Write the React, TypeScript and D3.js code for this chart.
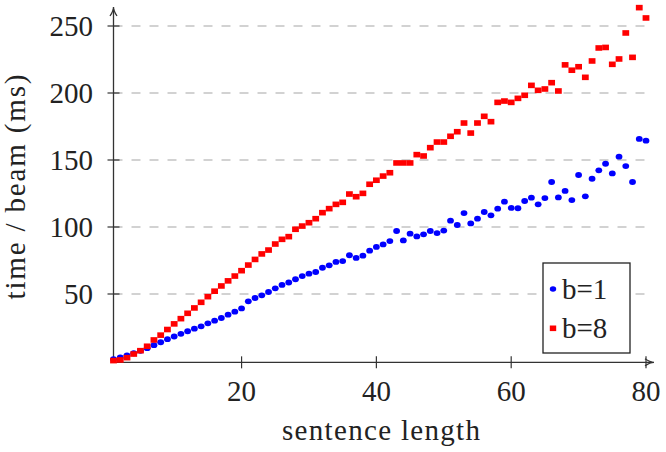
import React from 'react';
import * as d3 from 'd3';

// sentence length (x) for both series
const sentenceLengths = [
  1, 2, 3, 4, 5, 6, 7, 8, 9, 10, 11, 12, 13, 14, 15, 16, 17, 18, 19, 20,
  21, 22, 23, 24, 25, 26, 27, 28, 29, 30, 31, 32, 33, 34, 35, 36, 37, 38, 39, 40,
  41, 42, 43, 44, 45, 46, 47, 48, 49, 50, 51, 52, 53, 54, 55, 56, 57, 58, 59, 60,
  61, 62, 63, 64, 65, 66, 67, 68, 69, 70, 71, 72, 73, 74, 75, 76, 77, 78, 79, 80,
];

// time / beam (ms), beam size 1
const beam1 = [
  1.3, 2.7, 4.2, 5.8, 7.6, 9.6, 11.8, 14, 16.3, 18.3, 20.3, 22.2, 24.1, 25.9, 28.1, 30.1, 32.1, 34.6, 36.8, 39.2,
  44.5, 47, 49, 51.5, 54.2, 56.8, 58.6, 61, 63.4, 65.2, 66.4, 69.6, 71.4, 73.9, 74.6, 78.9, 76.9, 78.6, 82.3, 85.1,
  87, 89.5, 97, 90, 95, 93, 94.5, 97, 95.5, 97.3, 104.7, 101.5, 110.4, 102.7, 106.2, 111.2, 108.7, 113.7, 118.9, 114.2,
  114, 119.4, 121.9, 116.9, 121.6, 133.6, 122.1, 126.9, 120.1, 138.8, 122.9, 136, 142.3, 147.2, 140, 152.5, 145.5, 133.6, 165.7, 164.4,
];

// time / beam (ms), beam size 8
const beam8 = [
  0.3, 0.8, 2.5, 5.2, 7.7, 11, 15.7, 19.3, 23.5, 27.7, 31.6, 35.6, 39.6, 43.8, 48, 52.1, 56, 59.8, 63.4, 67.4,
  71.6, 75.8, 79.9, 82.8, 87.3, 90.8, 92.8, 98.3, 100.7, 103.2, 106.2, 110.7, 113.7, 116.9, 118.4, 124.6, 122.6, 125.1, 131.9, 134.9,
  138, 140.5, 147.8, 147.8, 147.8, 154, 153, 159.2, 163.4, 163.4, 167.7, 171.1, 177.6, 170.1, 177.6, 182.6, 178.6, 193, 194, 193,
  196, 198.3, 205.7, 202, 203, 207.7, 201.5, 221, 217, 219.6, 211.7, 223.9, 233.6, 234, 221.4, 225.4, 244.8, 226.6, 263.7, 256,
];

const xTicks = [20, 40, 60, 80];
const yTicks = [50, 100, 150, 200, 250];
const legendLabels = ['b=1', 'b=8'];

const W = 666;
const H = 452;
const FONT = "'Liberation Serif', 'Times New Roman', 'DejaVu Serif', serif";

export default function App() {
  const x = d3.scaleLinear().domain([1, 80]).range([113.5, 646]);
  const y = d3.scaleLinear().domain([0, 250]).range([361, 26]);

  const axisY = y(-1);
  const axisX = x(1);
  const xEnd = 654;
  const yTop = 7;

  const pts1 = sentenceLengths.map((l, i) => ({ l, v: beam1[i] }));
  const pts8 = sentenceLengths.map((l, i) => ({ l, v: beam8[i] }));

  return (
    <svg width={W} height={H}
      style={{ position: 'absolute', left: 0, top: 0, background: '#fff', fontFamily: FONT }}>
      {/* grid */}
      {yTicks.map(t => (
        <line key={'g' + t} x1={axisX} x2={x(80)} y1={y(t)} y2={y(t)}
          stroke="#c4c4c4" strokeWidth={1.3} strokeDasharray="9,9" />
      ))}

      {/* axes */}
      <line x1={axisX} x2={axisX} y1={axisY} y2={yTop + 2} stroke="#333" strokeWidth={1.3} />
      <path d={`M${axisX - 3.5},${yTop + 9} Q${axisX},${yTop + 4} ${axisX},${yTop} Q${axisX},${yTop + 4} ${axisX + 3.5},${yTop + 9}`}
        fill="none" stroke="#333" strokeWidth={1.3} />
      <line x1={axisX} x2={xEnd - 2} y1={axisY} y2={axisY} stroke="#333" strokeWidth={1.3} />
      <path d={`M${xEnd - 9},${axisY - 3.5} Q${xEnd - 4},${axisY} ${xEnd},${axisY} Q${xEnd - 4},${axisY} ${xEnd - 9},${axisY + 3.5}`}
        fill="none" stroke="#333" strokeWidth={1.3} />

      {yTicks.map(t => (
        <g key={'yt' + t}>
          <line x1={axisX - 6} x2={axisX + 6} y1={y(t)} y2={y(t)} stroke="#333" strokeWidth={1.2} />
          <text x={93} y={y(t) + 10} textAnchor="end" fontSize={29} fill="#222">{t}</text>
        </g>
      ))}
      {xTicks.map(t => (
        <g key={'xt' + t}>
          <line x1={x(t)} x2={x(t)} y1={axisY - 6} y2={axisY + 6} stroke="#333" strokeWidth={1.2} />
          <text x={x(t)} y={401} textAnchor="middle" fontSize={29} fill="#222">{t}</text>
        </g>
      ))}

      {/* axis titles */}
      <text x={381} y={440} textAnchor="middle" fontSize={29} fill="#222"
        textLength={198} lengthAdjust="spacing">sentence length</text>
      <text transform={`translate(25,187) rotate(-90)`} textAnchor="middle" fontSize={29} fill="#222"
        textLength={225} lengthAdjust="spacing">time / beam (ms)</text>

      {/* series */}
      {pts1.map(p => (
        <ellipse key={'b' + p.l} cx={x(p.l)} cy={y(p.v)} rx={3.4} ry={2.9} fill="#0000ff" />
      ))}
      {pts8.map(p => (
        <rect key={'r' + p.l} x={x(p.l) - 3.4} y={y(p.v) - 2.8} width={6.8} height={5.6} fill="#ff0000" />
      ))}

      {/* legend */}
      <rect x={543} y={263} width={87} height={90} fill="#fff" stroke="#222" strokeWidth={1.3} />
      <ellipse cx={553} cy={289} rx={3.2} ry={2.8} fill="#0000ff" />
      <text x={562} y={299} fontSize={29} fill="#222">{legendLabels[0]}</text>
      <rect x={549.8} y={325.5} width={6.4} height={5.6} fill="#ff0000" />
      <text x={562} y={338} fontSize={29} fill="#222">{legendLabels[1]}</text>
    </svg>
  );
}
